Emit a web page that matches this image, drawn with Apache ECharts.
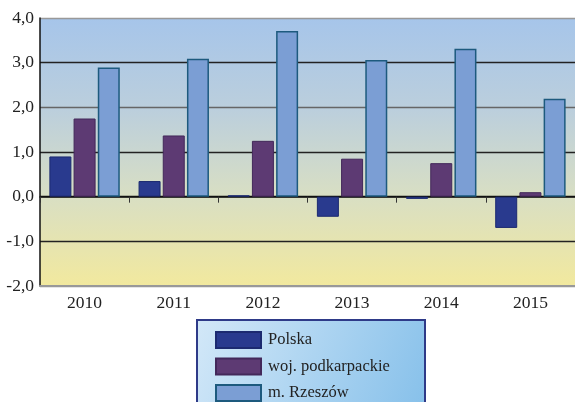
<!DOCTYPE html>
<html>
<head>
    <meta charset="utf-8">
    <title>Polska / podkarpackie / Rzeszów</title>
    <script src="https://cdn.jsdelivr.net/npm/echarts@6/dist/echarts.min.js"></script>
    <style>
        html, body { margin: 0; padding: 0; background: #fff; }
        #chart { width: 575px; height: 402px; }
    </style>
</head>
<body>
<div id="chart"></div>
<script>
    var years = ['2010', '2011', '2012', '2013', '2014', '2015'];
    var polska = [0.9, 0.35, 0.03, -0.45, -0.05, -0.7];
    var podkarpackie = [1.75, 1.37, 1.25, 0.85, 0.75, 0.1];
    var rzeszow = [2.89, 3.09, 3.71, 3.06, 3.31, 2.19];
    var seriesNames = ['Polska', 'woj. podkarpackie', 'm. Rzeszów'];

    var serif = '"Liberation Serif", "DejaVu Serif", serif';
    var chart = echarts.init(document.getElementById('chart'));

    function fmt(v) {
        return v.toFixed(1).replace('.', ',');
    }

    var option = {
        animation: false,
        grid: {
            left: 40, right: -1, top: 18, bottom: 116,
            show: true,
            borderWidth: 0,
            backgroundColor: new echarts.graphic.LinearGradient(0, 0, 0, 1, [
                {offset: 0, color: '#a6c5ea'},
                {offset: 0.35, color: '#bccfdc'},
                {offset: 0.67, color: '#d9dfc3'},
                {offset: 1, color: '#f2e99e'}
            ])
        },
        graphic: [{
            type: 'rect',
            shape: {x: 197, y: 320, width: 228, height: 90},
            style: {
                fill: new echarts.graphic.LinearGradient(0, 0, 1, 1, [
                    {offset: 0, color: '#d3e8f8'},
                    {offset: 1, color: '#86c0ea'}
                ]),
                stroke: '#2e3a88',
                lineWidth: 2
            },
            z: 0
        }],
        legend: {
            orient: 'vertical',
            left: 215,
            top: 331,
            padding: 0,
            height: 72,
            itemWidth: 45,
            itemHeight: 16,
            itemGap: 8.5,
            icon: 'rect',
            textStyle: {fontFamily: serif, fontSize: 16.5, color: '#222', padding: [0, 0, 0, 2]},
            data: seriesNames,
            z: 5
        },
        xAxis: [{
            type: 'category',
            data: years,
            position: 'top',
            axisLine: {onZero: true, lineStyle: {color: '#111', width: 1.5}},
            axisTick: {show: true, inside: true, length: 6, lineStyle: {color: '#333'}},
            axisLabel: {show: false}
        }, {
            type: 'category',
            data: years,
            position: 'bottom',
            axisLine: {onZero: false, lineStyle: {color: '#999', width: 2}},
            axisTick: {show: false},
            axisLabel: {fontFamily: serif, fontSize: 17.5, color: '#222', margin: 8}
        }],
        yAxis: {
            type: 'value',
            min: -2,
            max: 4,
            interval: 1,
            axisLine: {show: true, lineStyle: {color: '#111', width: 1.5}},
            axisTick: {show: false},
            axisLabel: {
                fontFamily: serif, fontSize: 17.5, color: '#222', margin: 6,
                formatter: fmt
            },
            splitLine: {
                show: true,
                lineStyle: {color: ['#999', '#222', '#111', '#222', '#666', '#222', '#999'], width: 1.3}
            }
        },
        series: [{
            name: seriesNames[0],
            type: 'bar',
            data: polska,
            barWidth: 22,
            barGap: '10%',
            itemStyle: {color: '#293a8e', borderColor: '#1c2a70', borderWidth: 1}
        }, {
            name: seriesNames[1],
            type: 'bar',
            data: podkarpackie,
            barWidth: 22,
            barGap: '10%',
            itemStyle: {color: '#5d3a73', borderColor: '#43285a', borderWidth: 1}
        }, {
            name: seriesNames[2],
            type: 'bar',
            data: rzeszow,
            barWidth: 22,
            barGap: '10%',
            itemStyle: {color: '#7b9ed4', borderColor: '#1d5a7e', borderWidth: 1.5}
        }]
    };

    chart.setOption(option);
</script>
</body>
</html>
